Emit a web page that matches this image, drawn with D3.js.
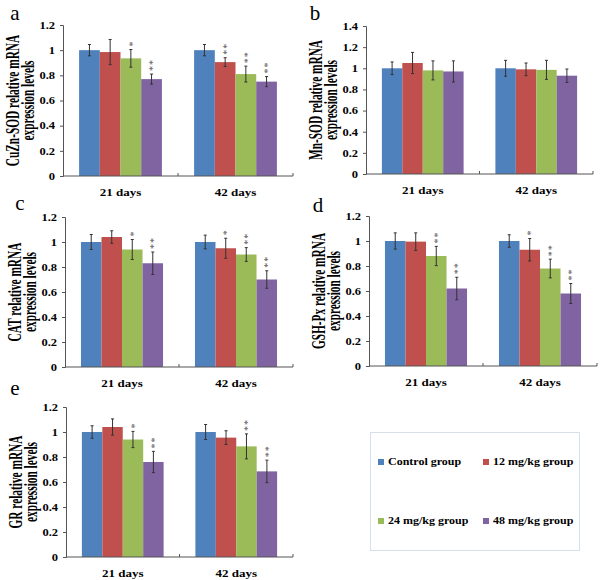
<!DOCTYPE html>
<html><head><meta charset="utf-8">
<script src="https://cdn.jsdelivr.net/npm/d3@7"></script>
<style>
body{margin:0;background:#fff;}
svg{display:block;}
text{font-family:"Liberation Serif","Times New Roman",serif;}
</style></head>
<body>
<svg id="chart" width="600" height="580"></svg>
<script>
// ---------- data ----------
const categories = ["21 days", "42 days"];
const groups = ["Control group", "12 mg/kg group", "24 mg/kg group", "48 mg/kg group"];
const groupColors = ["#4F81BD", "#C0504D", "#9BBB59", "#8064A2"];

const ticks12 = [0, 0.2, 0.4, 0.6, 0.8, 1, 1.2];
const ticks14 = [0, 0.2, 0.4, 0.6, 0.8, 1, 1.2, 1.4];

const cuznMeans = [[1.00, 0.985, 0.935, 0.77], [1.00, 0.905, 0.81, 0.75]];
const cuznErr   = [[0.045, 0.10, 0.07, 0.04], [0.045, 0.035, 0.063, 0.04]];
const cuznSig   = [["", "", "*", "**"], ["", "**", "**", "**"]];

const mnMeans = [[1.00, 1.05, 0.98, 0.97], [1.00, 0.99, 0.985, 0.93]];
const mnErr   = [[0.06, 0.10, 0.09, 0.10], [0.075, 0.06, 0.09, 0.063]];
const mnSig   = [["", "", "", ""], ["", "", "", ""]];

const catMeans = [[1.00, 1.04, 0.94, 0.83], [1.00, 0.95, 0.90, 0.70]];
const catErr   = [[0.06, 0.05, 0.08, 0.09], [0.055, 0.08, 0.055, 0.07]];
const catSig   = [["", "", "*", "**"], ["", "*", "**", "**"]];

const gshMeans = [[1.00, 0.995, 0.88, 0.62], [1.00, 0.93, 0.78, 0.58]];
const gshErr   = [[0.065, 0.07, 0.077, 0.09], [0.05, 0.09, 0.075, 0.08]];
const gshSig   = [["", "", "**", "**"], ["", "*", "**", "**"]];

const grMeans = [[1.00, 1.04, 0.94, 0.76], [1.00, 0.955, 0.885, 0.685]];
const grErr   = [[0.05, 0.065, 0.065, 0.085], [0.06, 0.055, 0.10, 0.09]];
const grSig   = [["", "", "*", "**"], ["", "", "**", "**"]];

const panelLetters = ["a", "b", "c", "d", "e"];
const panelTitles = [
  ["CuZn-SOD relative mRNA", "expression levels"],
  ["Mn-SOD relative mRNA", "expression levels"],
  ["CAT relative mRNA", "expression levels"],
  ["GSH-Px relative mRNA", "expression levels"],
  ["GR relative mRNA", "expression levels"]
];

// ---------- layout (style) ----------
const layouts = [
  {x0: 63,  x1: 293, yTop: 25,  y0: 176, max: 1.2, ticks: ticks12, lx: 15,  ly: 13},
  {x0: 366, x1: 593, yTop: 26,  y0: 174, max: 1.4, ticks: ticks14, lx: 315, ly: 13},
  {x0: 65,  x1: 293, yTop: 217, y0: 367, max: 1.2, ticks: ticks12, lx: 20,  ly: 203},
  {x0: 369, x1: 597, yTop: 216, y0: 366, max: 1.2, ticks: ticks12, lx: 318, ly: 205},
  {x0: 66,  x1: 293, yTop: 407, y0: 557, max: 1.2, ticks: ticks12, lx: 15,  ly: 388}
];
const panelData = [
  {means: cuznMeans, err: cuznErr, sig: cuznSig},
  {means: mnMeans, err: mnErr, sig: mnSig},
  {means: catMeans, err: catErr, sig: catSig},
  {means: gshMeans, err: gshErr, sig: gshSig},
  {means: grMeans, err: grErr, sig: grSig}
];

const svg = d3.select("#chart");
const axisColor = "#555";
const SY = 0.82;

panelData.forEach((pd, i) => {
  const L = layouts[i];
  const g = svg.append("g");
  const x = d3.scaleBand().domain(categories).range([L.x0, L.x1])
    .paddingInner(0.28).paddingOuter(0.14);
  const xg = d3.scaleBand().domain(groups).range([0, x.bandwidth()]);
  const y = d3.scaleLinear().domain([0, L.max]).range([L.y0, L.yTop]);

  // bars
  categories.forEach((c, ci) => {
    const cg = g.append("g").attr("transform", `translate(${x(c)},0)`);
    const rows = groups.map((gr, gi) => ({gr, gi, v: pd.means[ci][gi], e: pd.err[ci][gi], s: pd.sig[ci][gi]}));
    cg.selectAll("rect").data(rows).join("rect")
      .attr("x", d => xg(d.gr)).attr("width", xg.bandwidth())
      .attr("y", d => y(d.v)).attr("height", d => y(0) - y(d.v))
      .attr("fill", d => groupColors[d.gi]);
    // error bars
    rows.forEach(d => {
      const cx = xg(d.gr) + xg.bandwidth() / 2;
      const eg = cg.append("g").attr("stroke", "#333").attr("stroke-width", 1);
      eg.append("line").attr("x1", cx).attr("x2", cx).attr("y1", y(d.v + d.e)).attr("y2", y(d.v - d.e));
      eg.append("line").attr("x1", cx - 1.5).attr("x2", cx + 1.5).attr("y1", y(d.v + d.e)).attr("y2", y(d.v + d.e));
      eg.append("line").attr("x1", cx - 1.5).attr("x2", cx + 1.5).attr("y1", y(d.v - d.e)).attr("y2", y(d.v - d.e));
      // significance stars, stacked vertically (one rotated text)
      if (d.s.length) {
        const top = y(d.v + d.e);
        const cy = top - 5 - (d.s.length - 1) * 3;
        cg.append("text")
          .attr("transform", `translate(${cx},${cy}) rotate(90)`)
          .attr("x", 0).attr("y", 5.3)
          .attr("text-anchor", "middle").attr("font-size", 10)
          .attr("letter-spacing", 1)
          .attr("fill", "#555").text(d.s);
      }
    });
  });

  // y axis
  const ya = g.append("g").attr("transform", `translate(${L.x0},0)`)
    .call(d3.axisLeft(y).tickValues(L.ticks).tickSize(3).tickPadding(5)
      .tickFormat(d => d3.format("~g")(d)));
  ya.select(".domain").attr("stroke", axisColor);
  ya.selectAll(".tick line").attr("stroke", axisColor);
  ya.selectAll(".tick text").attr("font-family", "Liberation Serif, serif")
    .attr("font-weight", "bold").attr("font-size", 12.5).attr("fill", "#000")
    .attr("transform", `scale(1,${SY})`).attr("dy", "0.32em");

  // x axis line with inward ticks between categories
  g.append("line").attr("x1", L.x0).attr("x2", L.x1).attr("y1", L.y0).attr("y2", L.y0)
    .attr("stroke", axisColor);
  const bounds = [x(categories[1]) - x.step() * x.paddingInner() / 2, L.x1];
  bounds.forEach(bx => {
    g.append("line").attr("x1", bx).attr("x2", bx).attr("y1", L.y0).attr("y2", L.y0 - 3)
      .attr("stroke", axisColor);
  });
  categories.forEach(c => {
    g.append("text").attr("transform", `translate(${x(c) + x.bandwidth() / 2},${L.y0 + 20}) scale(1,${SY})`)
      .attr("text-anchor", "middle").attr("font-weight", "bold").attr("font-size", 13)
      .text(c);
  });

  // y title (two lines)
  const my = (L.yTop + L.y0) / 2;
  panelTitles[i].forEach((t, li) => {
    g.append("text")
      .attr("transform", `translate(${L.x0 - 50 + li * 15},${my}) scale(1,0.63) rotate(-90)`)
      .attr("text-anchor", "middle").attr("dominant-baseline", "central")
      .attr("font-weight", "bold").attr("font-size", 18).text(t);
  });

  // panel letter
  g.append("text").attr("x", L.lx).attr("y", L.ly).attr("text-anchor", "middle")
    .attr("dominant-baseline", "central").attr("font-size", 21).text(panelLetters[i]);
});

// legend
const lg = svg.append("g");
lg.append("rect").attr("x", 370.5).attr("y", 432.5).attr("width", 209).attr("height", 118)
  .attr("fill", "#fff").attr("stroke", "#d6e0ea");
const legPos = [[381, 462], [486, 462], [381, 521], [486, 521]];
groups.forEach((gname, gi) => {
  const [lx, ly] = legPos[gi];
  lg.append("rect").attr("x", lx - 3).attr("y", ly - 3).attr("width", 6).attr("height", 6)
    .attr("fill", groupColors[gi]);
  lg.append("text").attr("transform", `translate(${lx + 7},${ly}) scale(1,0.95)`)
    .attr("dominant-baseline", "central").attr("font-weight", "bold").attr("font-size", 12)
    .text(gname);
});
</script>
</body></html>
